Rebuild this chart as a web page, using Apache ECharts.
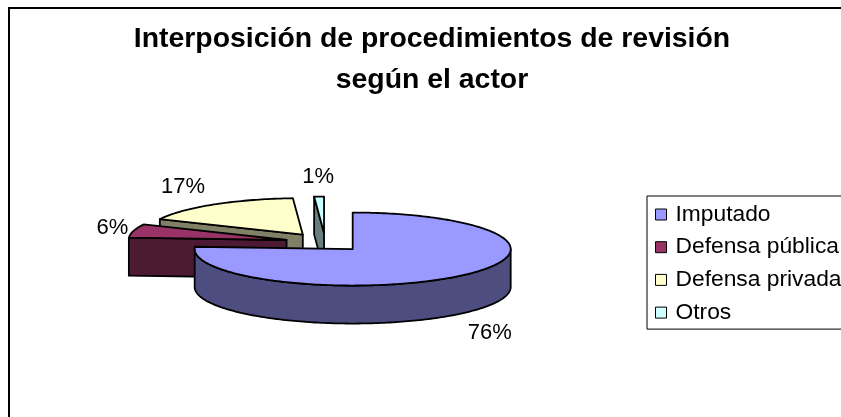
<!DOCTYPE html>
<html>
<head>
<meta charset="utf-8">
<style>
  html, body { margin: 0; padding: 0; background: #fff; }
  #main { width: 841px; height: 417px; }
</style>
<script src="https://cdn.jsdelivr.net/npm/echarts@6/dist/echarts.min.js"></script>
</head>
<body>
<div id="main"></div>
<script>
const categories = ['Imputado', 'Defensa pública', 'Defensa privada', 'Otros'];
const values = [76, 6, 17, 1];
const topColors = ['#9999ff', '#993366', '#ffffcc', '#ccffff'];
const wallColors = ['#4d4d80', '#4d1a33', '#808066', '#668080'];

// pie projection, echarts has no flat-3d pie so it is worked out here
const cx = 325.3, cy = 242.3;
const rx = 158, ry = 36.5, depth = 38, explode = 40;
const font = '"Liberation Sans", Arial, sans-serif';
// distance of each percent label from the rim of its slice
const labelNudge = [[29, 19.5], [-21, -3], [-31, -17.5], [-1, -19.5]];

const total = values.reduce((a, b) => a + b, 0);
const slices = [];
let acc = 0;
values.forEach((v) => {
    const start = acc / total * Math.PI * 2;
    acc += v;
    slices.push({ start: start, end: acc / total * Math.PI * 2 });
});

function rim(tip, a) {
    return [tip[0] + rx * Math.sin(a), tip[1] - ry * Math.cos(a)];
}
function down(p) {
    return [p[0], p[1] + depth];
}
function poly(points, fill) {
    return {
        type: 'polygon',
        shape: { points: points },
        style: { fill: fill, stroke: '#000', lineWidth: 1.8, lineJoin: 'round' }
    };
}
function arcPoints(tip, a0, a1) {
    const pts = [];
    const n = Math.max(2, Math.ceil((a1 - a0) / 0.02));
    for (let i = 0; i <= n; i++) {
        pts.push(rim(tip, a0 + (a1 - a0) * i / n));
    }
    return pts;
}

function sliceRenderer(i) {
    return function () {
        const s = slices[i];
        const mid = (s.start + s.end) / 2;
        const tip = [
            cx + explode * Math.sin(mid),
            cy - explode * (ry / rx) * Math.cos(mid)
        ];
        const children = [];
        // a radial wall only shows when the top face sits above its edge
        const radial = [];
        if (Math.sin(s.start) < -1e-6) radial.push(s.start);
        if (Math.sin(s.end) > 1e-6) radial.push(s.end);
        radial.forEach((a) => {
            const p = rim(tip, a);
            children.push(poly([tip, p, down(p), down(tip)], wallColors[i]));
        });
        // curved wall only for the front half of the rim
        const f0 = Math.max(s.start, Math.PI / 2);
        const f1 = Math.min(s.end, Math.PI * 1.5);
        if (f1 > f0) {
            const arc = arcPoints(tip, f0, f1);
            children.push(poly(arc.concat(arc.map(down).reverse()), wallColors[i]));
        }
        children.push(poly([tip].concat(arcPoints(tip, s.start, s.end)), topColors[i]));
        const lp = rim(tip, mid);
        const low = Math.cos(mid) < 0 ? depth : 0;
        children.push({
            type: 'text',
            z2: 10,
            style: {
                text: Math.round(values[i] / total * 100) + '%',
                x: lp[0] + labelNudge[i][0],
                y: lp[1] + low + labelNudge[i][1],
                align: 'center',
                verticalAlign: 'middle',
                fill: '#000',
                font: '22px ' + font
            }
        });
        return { type: 'group', children: children };
    };
}

const chart = echarts.init(document.getElementById('main'));
chart.setOption({
    animation: false,
    backgroundColor: '#fff',
    title: {
        text: 'Interposición de procedimientos de revisión\nsegún el actor',
        left: 427,
        top: 14,
        textAlign: 'center',
        textStyle: { fontFamily: font, fontSize: 28.4, fontWeight: 'bold', color: '#000', lineHeight: 41 }
    },
    legend: {
        orient: 'vertical',
        left: 647,
        top: 196,
        padding: [7, 20, 5, 8],
        data: categories,
        icon: 'rect',
        itemWidth: 11,
        itemHeight: 11,
        itemGap: 9.7,
        itemStyle: { borderColor: '#000', borderWidth: 1 },
        borderColor: '#000',
        borderWidth: 1,
        textStyle: { fontFamily: font, fontSize: 22.8, color: '#000', padding: [0, 0, 0, 4] }
    },
    graphic: [{
        type: 'rect',
        shape: { x: 9, y: 8, width: 900, height: 500 },
        style: { fill: 'none', stroke: '#000', lineWidth: 2 },
        silent: true
    }],
    series: categories.map((name, i) => ({
        type: 'custom',
        name: name,
        coordinateSystem: 'none',
        z: 10 - i,
        silent: true,
        itemStyle: { color: topColors[i] },
        renderItem: sliceRenderer(i),
        data: [values[i]]
    }))
});
</script>
</body>
</html>
